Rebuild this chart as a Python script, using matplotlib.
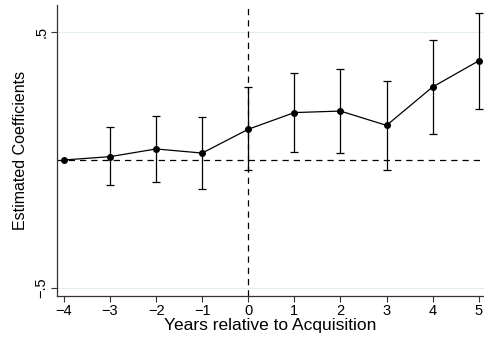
"""Event-study plot: estimated coefficients around acquisition."""
import matplotlib
matplotlib.use("Agg")
import matplotlib.pyplot as plt

plt.rcParams.update({"font.family": ["Liberation Sans", "DejaVu Sans"]})

years = [-4, -3, -2, -1, 0, 1, 2, 3, 4, 5]
coef = [0.0, 0.013, 0.043, 0.027, 0.120, 0.185, 0.191, 0.135, 0.285, 0.387]
ci_lo = [0.0, -0.099, -0.086, -0.113, -0.039, 0.031, 0.029, -0.039, 0.102, 0.200]
ci_hi = [0.0, 0.128, 0.173, 0.169, 0.284, 0.339, 0.354, 0.309, 0.469, 0.573]

fig = plt.figure(figsize=(4.84, 3.45), dpi=100)
ax = fig.add_axes([57 / 484, 49 / 345, 427 / 484, 291 / 345])

# light gridlines at labelled y ticks
for g in (-0.5, 0.5):
    ax.axhline(g, color="#e3edf0", lw=0.8, zorder=0)
ax.axhline(0, color="black", lw=0.9, ls=(0, (5, 4)), zorder=1)
ax.axvline(0, color="black", lw=0.9, ls=(0, (5, 4)), zorder=1)

err = [[c - lo for c, lo in zip(coef, ci_lo)], [hi - c for c, hi in zip(coef, ci_hi)]]
ax.errorbar(years[1:], coef[1:], yerr=[err[0][1:], err[1][1:]], fmt="none",
            ecolor="black", elinewidth=0.9, capsize=3, capthick=0.9, zorder=2)
ax.plot(years, coef, "o-", color="black", lw=0.9, ms=4, zorder=3)

ax.set_xlim(-4.15, 5.115)
ax.set_ylim(-0.531, 0.605)
ax.set_xticks(years)
ax.set_xticklabels([str(y).replace("-", "\u2212") for y in years], fontsize=10.5)
ax.set_yticks([-0.5, 0.5])
ax.set_yticklabels(["\u2212.5", ".5"], fontsize=10.5, rotation=90, va="center")
for s in ("top", "right"):
    ax.spines[s].set_visible(False)
for s in ("left", "bottom"):
    ax.spines[s].set_color("#333333")
    ax.spines[s].set_linewidth(0.9)
ax.tick_params(length=4, width=0.8, color="#333333", pad=2)
ax.set_xlabel("Years relative to Acquisition", fontsize=12.5, labelpad=0)
ax.set_ylabel("Estimated Coefficients", fontsize=11.5, labelpad=5)

fig.savefig("out.png", dpi=100)
